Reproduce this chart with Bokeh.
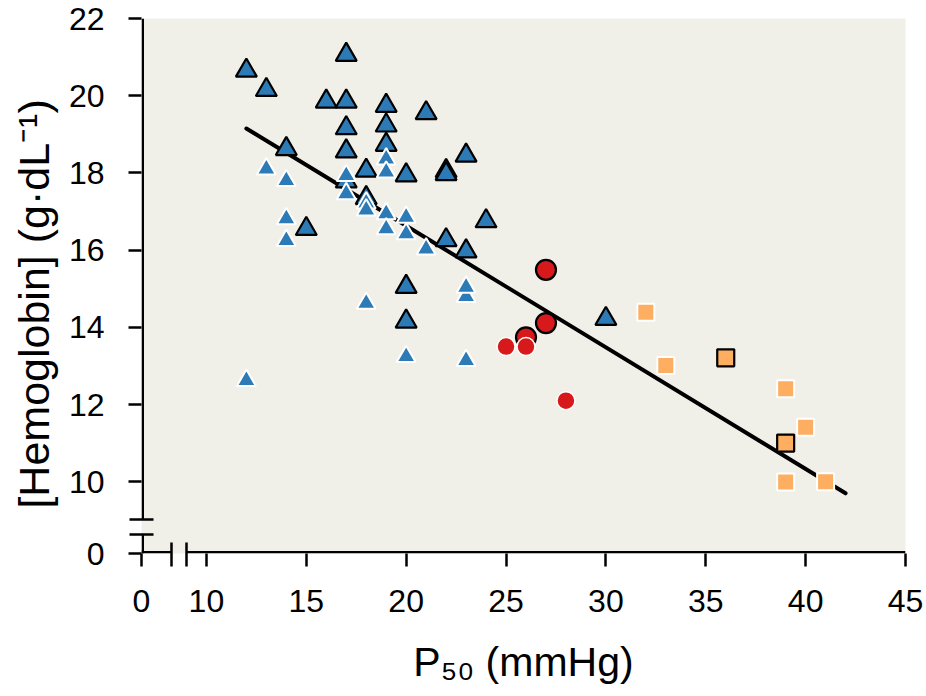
from bokeh.plotting import figure
from bokeh.models import Range1d, FixedTicker
from bokeh.embed import file_html
from bokeh.resources import INLINE

# ---------------- data ----------------
# blue triangles with black outline
tri_dark_x = [12, 13, 14, 15, 16, 17, 17, 17, 17, 17, 18, 18, 19, 19, 19,
              20, 20, 20, 21, 22, 22, 22, 23, 23, 24, 30]
tri_dark_y = [20.65, 20.15, 18.62, 16.55, 19.85, 21.06, 19.85, 19.16, 18.56, 17.78,
              18.06, 17.35, 19.74, 19.23, 18.73, 17.94, 15.05, 14.15, 19.55, 18.05,
              17.97, 16.26, 18.45, 15.97, 16.75, 14.22]
# blue triangles with white outline
tri_light_x = [12, 13, 14, 14, 14, 17, 17, 18, 18, 18, 19, 19, 19, 19, 20, 20, 20,
               21, 23, 23, 23]
tri_light_y = [12.62, 18.10, 17.80, 16.81, 16.25, 17.93, 17.46, 17.22, 17.04, 14.62,
               18.36, 18.02, 16.94, 16.55, 16.85, 16.42, 13.24, 16.03, 14.80, 15.04, 13.14]
# red circles
circ_dark_x = [26, 27, 27]
circ_dark_y = [13.74, 14.11, 15.49]
circ_light_x = [25, 26, 28]
circ_light_y = [13.50, 13.50, 12.10]
# orange squares
sq_dark_x = [36, 39]
sq_dark_y = [13.21, 11.00]
sq_light_x = [32, 33, 39, 40, 39, 41]
sq_light_y = [14.39, 13.01, 12.41, 11.41, 9.99, 10.00]
# regression line
fit_x = [12, 42]
fit_y = [19.15, 9.70]

# broken axes: the "0" ticks sit at compressed positions
X_TICKS = [6.75, 10, 15, 20, 25, 30, 35, 40, 45]
X_TICK_LABELS = ["0", "10", "15", "20", "25", "30", "35", "40", "45"]
Y_TICKS = [8.14, 10, 12, 14, 16, 18, 20, 22]
Y_TICK_LABELS = ["0", "10", "12", "14", "16", "18", "20", "22"]
X_BREAKS = [8.25, 9.0]
Y_BREAKS = [8.63, 9.02]
X_TITLE = "P\u2085\u2080 (mmHg)"
Y_TITLE = "[Hemoglobin] (g\u00b7dL\u207b\u00b9)"

# ---------------- styling ----------------
BLUE = "#2c7bb6"
RED = "#d7191c"
ORANGE = "#fdae61"
BG = "#f0efe8"
FONT = "Liberation Sans"

W, H = 926, 696
ML, MR, MT, MB = 141, 21, 18, 143
x0, x1 = X_TICKS[0], X_TICKS[-1]
y0, y1 = Y_TICKS[0], Y_TICKS[-1]

p = figure(width=W, height=H, x_range=Range1d(x0, x1), y_range=Range1d(y0, y1),
           output_backend="svg", toolbar_location=None,
           min_border_left=ML, min_border_right=MR, min_border_top=MT, min_border_bottom=MB,
           background_fill_color=BG, border_fill_color="white", outline_line_color=None)
p.grid.visible = False

# trailing no-break spaces nudge the rotated title to the frame's centre
for ax, ticks, labels, breaks, label in (
        (p.xaxis[0], X_TICKS, X_TICK_LABELS, X_BREAKS, X_TITLE),
        (p.yaxis[0], Y_TICKS, Y_TICK_LABELS, Y_BREAKS, Y_TITLE + "\u00a0\u00a0\u00a0")):
    ax.ticker = FixedTicker(ticks=ticks, minor_ticks=breaks)
    ax.major_label_overrides = {t: s for t, s in zip(ticks, labels)}
    ax.axis_line_color = None
    ax.major_tick_in = 0
    ax.major_tick_out = 13
    ax.major_tick_line_width = 2.5
    ax.major_tick_line_color = "black"
    ax.minor_tick_line_width = 2.5
    ax.minor_tick_line_color = "black"
    ax.major_label_text_font = FONT
    ax.major_label_text_font_size = "32px"
    ax.major_label_text_color = "black"
    ax.axis_label = label
    ax.axis_label_text_font = FONT
    ax.axis_label_text_font_style = "normal"
    ax.axis_label_text_color = "black"

p.xaxis.axis_label_text_font_size = "41px"
p.yaxis.axis_label_text_font_size = "43px"
p.xaxis.minor_tick_in = 11
p.xaxis.minor_tick_out = 13
p.yaxis.minor_tick_in = 12
p.yaxis.minor_tick_out = 12
p.xaxis.major_label_standoff = 23
p.yaxis.major_label_standoff = 24
p.xaxis.axis_label_standoff = 24
p.yaxis.axis_label_standoff = 8

# regression line
p.line(fit_x, fit_y, line_color="black", line_width=4, line_cap="round")

# outlined markers
p.scatter(tri_dark_x, tri_dark_y, marker="triangle", size=21, fill_color=BLUE,
          line_color="black", line_width=2.2)
p.scatter(circ_dark_x, circ_dark_y, marker="circle", size=20, fill_color=RED,
          line_color="black", line_width=2.2)
p.scatter(sq_dark_x, sq_dark_y, marker="square", size=17, fill_color=ORANGE,
          line_color="black", line_width=2.2)
# white-edged markers
p.scatter(tri_light_x, tri_light_y, marker="triangle", size=19, fill_color=BLUE,
          line_color="white", line_width=2)
p.scatter(circ_light_x, circ_light_y, marker="circle", size=18, fill_color=RED,
          line_color="white", line_width=1.5)
p.scatter(sq_light_x, sq_light_y, marker="square", size=17, fill_color=ORANGE,
          line_color="white", line_width=2)

# axis lines with breaks (drawn just inside the frame edge)
fw = W - ML - MR
fh = H - MT - MB
ix = 1.25 * (x1 - x0) / fw
iy = 1.25 * (y1 - y0) / fh
p.segment(x0=[x0, X_BREAKS[1]], y0=[y0 + iy, y0 + iy], x1=[X_BREAKS[0], x1], y1=[y0 + iy, y0 + iy],
          line_color="black", line_width=2.5)
p.segment(x0=[x0 + ix, x0 + ix], y0=[y0, Y_BREAKS[1]], x1=[x0 + ix, x0 + ix], y1=[Y_BREAKS[0], y1],
          line_color="black", line_width=2.5)

open("out.html", "w").write(file_html(p, INLINE))
